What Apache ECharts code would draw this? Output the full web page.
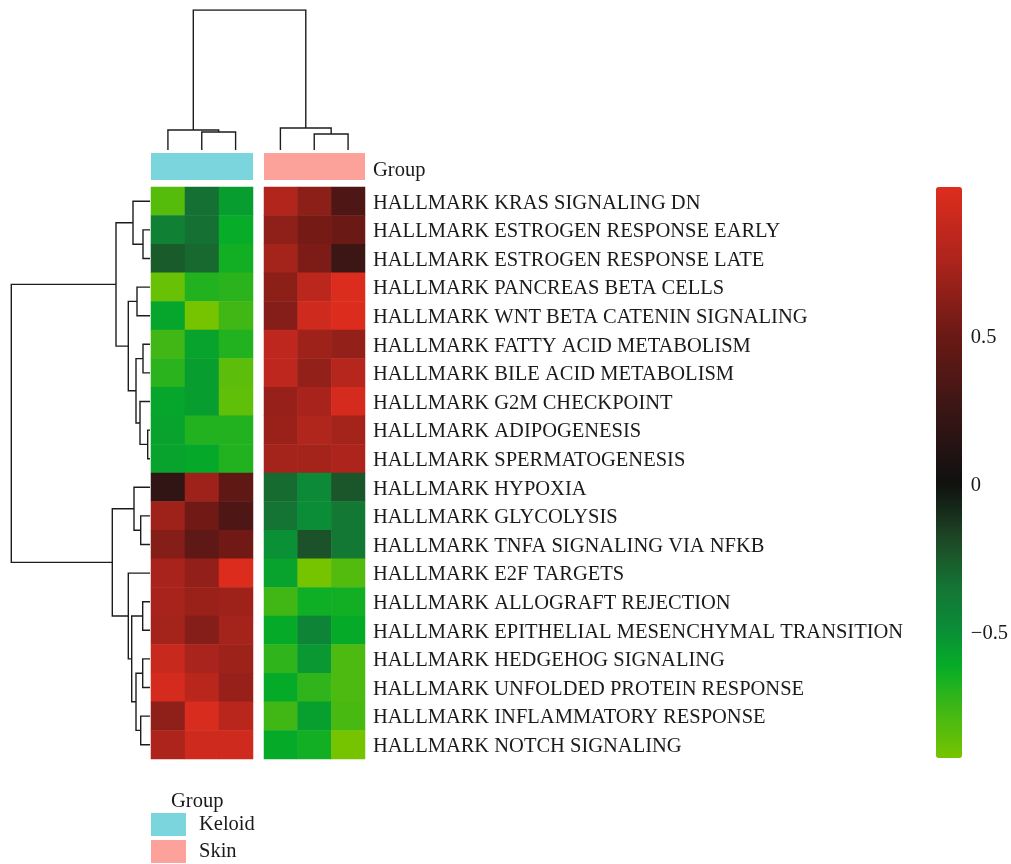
<!DOCTYPE html>
<html>
<head>
<meta charset="utf-8">
<script src="https://cdn.jsdelivr.net/npm/echarts@6/dist/echarts.min.js"></script>
<style>
  html, body { margin: 0; padding: 0; background: #ffffff; }
  #chart { width: 1011px; height: 864px; }
</style>
</head>
<body>
<div id="chart"></div>
<script>
// ---- data ----
const keloidSamples = ['Keloid 1', 'Keloid 2', 'Keloid 3'];
const skinSamples = ['Skin 1', 'Skin 2', 'Skin 3'];
const groupNames = ['Keloid', 'Skin'];

const pathways = [
  'HALLMARK KRAS SIGNALING DN',
  'HALLMARK ESTROGEN RESPONSE EARLY',
  'HALLMARK ESTROGEN RESPONSE LATE',
  'HALLMARK PANCREAS BETA CELLS',
  'HALLMARK WNT BETA CATENIN SIGNALING',
  'HALLMARK FATTY ACID METABOLISM',
  'HALLMARK BILE ACID METABOLISM',
  'HALLMARK G2M CHECKPOINT',
  'HALLMARK ADIPOGENESIS',
  'HALLMARK SPERMATOGENESIS',
  'HALLMARK HYPOXIA',
  'HALLMARK GLYCOLYSIS',
  'HALLMARK TNFA SIGNALING VIA NFKB',
  'HALLMARK E2F TARGETS',
  'HALLMARK ALLOGRAFT REJECTION',
  'HALLMARK EPITHELIAL MESENCHYMAL TRANSITION',
  'HALLMARK HEDGEHOG SIGNALING',
  'HALLMARK UNFOLDED PROTEIN RESPONSE',
  'HALLMARK INFLAMMATORY RESPONSE',
  'HALLMARK NOTCH SIGNALING'
];

// GSVA enrichment scores, one row per pathway (3 samples each)
const keloidScores = [
  [-0.83, -0.34, -0.56],
  [-0.42, -0.34, -0.62],
  [-0.26, -0.31, -0.65],
  [-0.89, -0.69, -0.71],
  [-0.59, -0.93, -0.77],
  [-0.77, -0.58, -0.69],
  [-0.71, -0.56, -0.85],
  [-0.59, -0.56, -0.86],
  [-0.58, -0.69, -0.69],
  [-0.58, -0.60, -0.69],
  [ 0.19,  0.70,  0.44],
  [ 0.70,  0.52,  0.35],
  [ 0.60,  0.43,  0.52],
  [ 0.73,  0.65,  0.99],
  [ 0.73,  0.68,  0.70],
  [ 0.72,  0.60,  0.72],
  [ 0.89,  0.74,  0.69],
  [ 0.95,  0.81,  0.67],
  [ 0.64,  0.97,  0.81],
  [ 0.75,  0.92,  0.92]
];
const skinScores = [
  [ 0.78,  0.63,  0.35],
  [ 0.64,  0.54,  0.50],
  [ 0.72,  0.57,  0.26],
  [ 0.63,  0.83,  0.99],
  [ 0.60,  0.92,  0.99],
  [ 0.84,  0.70,  0.66],
  [ 0.84,  0.66,  0.80],
  [ 0.67,  0.73,  0.95],
  [ 0.68,  0.77,  0.72],
  [ 0.72,  0.72,  0.75],
  [-0.32, -0.48, -0.24],
  [-0.35, -0.49, -0.37],
  [-0.51, -0.23, -0.37],
  [-0.58, -0.93, -0.82],
  [-0.77, -0.64, -0.65],
  [-0.61, -0.44, -0.61],
  [-0.72, -0.54, -0.80],
  [-0.61, -0.72, -0.80],
  [-0.77, -0.57, -0.79],
  [-0.61, -0.65, -0.93]
];

// hierarchical clustering merges (hclust style: negative = leaf, positive = earlier merge)
const rowMerges = [
  [-2, -3, 0.70],
  [-1, 1, 1.70],
  [-4, -5, 1.30],
  [-6, -7, 0.70],
  [-9, -10, 0.23],
  [-8, 5, 1.00],
  [4, 6, 1.40],
  [3, 7, 2.17],
  [2, 8, 3.40],
  [-12, -13, 0.93],
  [-11, 10, 1.60],
  [-15, -16, 0.73],
  [-17, -18, 0.73],
  [-19, -20, 0.93],
  [13, 14, 1.40],
  [12, 15, 1.83],
  [-14, 16, 2.17],
  [11, 17, 3.77],
  [9, 18, 13.87]
];
const colMerges = [
  [-2, -3, 1.8],
  [-1, 1, 2.0],
  [-5, -6, 1.6],
  [-4, 3, 2.2],
  [2, 4, 14.0]
];

const scoreMin = -0.93;
const scoreMax = 1.0;
const legendTicks = [-0.5, 0, 0.5];

// ---- styling ----
const FONT = '"Liberation Serif", "DejaVu Serif", serif';
const TEXT = '#1a1a1a';
const LABEL_SIZE = 20.5;
const groupColors = { Keloid: '#7AD5DD', Skin: '#FDA29B' };
const colorStops = [
  [-0.93, '#76C400'], [-0.75, '#3BB617'], [-0.62, '#05AD28'], [-0.5, '#0B8E37'],
  [-0.35, '#147434'], [-0.2, '#1E4A26'], [0, '#101010'], [0.25, '#3A1615'],
  [0.5, '#6B1915'], [0.75, '#AC241C'], [1.0, '#DE2D1E']
];

// layout (pixels)
const L = {
  kLeft: 151, kWidth: 102,
  sLeft: 264, sWidth: 101,
  heatTop: 187, heatHeight: 572,
  annTop: 153, annHeight: 27,
  rowDendroLeft: 11,
  colDendroTop: 10,
  barLeft: 936, barWidth: 26
};

function hexToRgb(h) {
  return [1, 3, 5].map(i => parseInt(h.slice(i, i + 2), 16));
}
function paletteAt(v) {
  for (let i = 0; i < colorStops.length - 1; i++) {
    const [v0, c0] = colorStops[i], [v1, c1] = colorStops[i + 1];
    if (v <= v1 || i === colorStops.length - 2) {
      const t = Math.max(0, Math.min(1, (v - v0) / (v1 - v0)));
      const a = hexToRgb(c0), b = hexToRgb(c1);
      return 'rgb(' + a.map((x, k) => Math.round(x + (b[k] - x) * t)).join(',') + ')';
    }
  }
}
const palette = [];
for (let i = 0; i <= 120; i++) palette.push(paletteAt(scoreMin + (scoreMax - scoreMin) * i / 120));

// elbow segments of a dendrogram in (position, height) units
function dendrogram(merges, leafPos) {
  const pos = [], hgt = [], segs = [];
  const node = r => (r < 0 ? [leafPos(-r - 1), 0] : [pos[r - 1], hgt[r - 1]]);
  merges.forEach(([a, b, h], k) => {
    const [pa, ha] = node(a), [pb, hb] = node(b);
    segs.push([[pa, ha], [pa, h], [pb, h], [pb, hb]]);
    pos[k] = (pa + pb) / 2;
    hgt[k] = h;
  });
  return segs;
}

const colWidth = L.kWidth / keloidSamples.length;
const groupGap = (L.sLeft - (L.kLeft + L.kWidth)) / colWidth;
const colLeafPos = i => (i < keloidSamples.length ? i : i + groupGap);
const rowSegs = dendrogram(rowMerges, i => i)
  .map(seg => ({ coords: seg.map(([p, h]) => [h, p]) }));
const colSegs = dendrogram(colMerges, colLeafPos)
  .map(seg => ({ coords: seg }));

const toCells = m => {
  const out = [];
  m.forEach((row, r) => row.forEach((v, c) => out.push([c, r, v])));
  return out;
};

// serif label style, nudged down a little so the glyphs sit centred on their row
const serifRich = dy => ({
  t: { fontFamily: FONT, fontSize: LABEL_SIZE, color: TEXT, padding: [dy, 0, 0, 0] }
});
const wrap = s => '{t|' + s + '}';

const hidden = { show: false };
const colMax = colMerges[colMerges.length - 1][2];

const option = {
  animation: false,
  backgroundColor: '#ffffff',
  textStyle: { fontFamily: FONT },
  title: {
    text: 'Group', left: 171, top: 791, padding: 0,
    textStyle: { fontFamily: FONT, fontSize: LABEL_SIZE, fontWeight: 'normal', color: TEXT }
  },
  legend: {
    data: groupNames, orient: 'vertical', left: 151, top: 813,
    icon: 'rect', itemWidth: 35, itemHeight: 23, itemGap: 4, padding: 0,
    selectedMode: false,
    textStyle: { fontFamily: FONT, fontSize: LABEL_SIZE, color: TEXT, padding: [0, 0, 0, 8] }
  },
  grid: [
    { left: L.kLeft, top: L.heatTop, width: L.kWidth, height: L.heatHeight },
    { left: L.sLeft, top: L.heatTop, width: L.sWidth, height: L.heatHeight },
    { left: L.kLeft, top: L.annTop, width: L.kWidth, height: L.annHeight },
    { left: L.sLeft, top: L.annTop, width: L.sWidth, height: L.annHeight },
    { left: L.rowDendroLeft, top: L.heatTop, width: L.kLeft - 1 - L.rowDendroLeft, height: L.heatHeight },
    { left: L.kLeft, top: L.colDendroTop, width: L.sLeft + L.sWidth - L.kLeft, height: L.annTop - 3 - L.colDendroTop },
    { left: L.barLeft, top: L.heatTop, width: L.barWidth, height: L.heatHeight - 1 }
  ],
  xAxis: [
    { gridIndex: 0, type: 'category', data: keloidSamples, show: false },
    { gridIndex: 1, type: 'category', data: skinSamples, show: false },
    { gridIndex: 2, type: 'value', min: 0, max: 1, show: false },
    { gridIndex: 3, type: 'value', min: 0, max: 1, show: false },
    { gridIndex: 4, type: 'value', min: 0, max: 13.9, inverse: true, show: false },
    { gridIndex: 5, type: 'value', min: -0.5, max: keloidSamples.length + skinSamples.length - 0.5 + groupGap, show: false },
    { gridIndex: 6, type: 'value', min: 0, max: 1, show: false }
  ],
  yAxis: [
    { gridIndex: 0, type: 'category', data: pathways, inverse: true, show: false },
    {
      gridIndex: 1, type: 'category', data: pathways, inverse: true, position: 'right',
      axisLine: hidden, axisTick: hidden, splitLine: hidden,
      axisLabel: { margin: 8, formatter: wrap, rich: serifRich(4) }
    },
    { gridIndex: 2, type: 'category', data: ['Group'], show: false },
    {
      gridIndex: 3, type: 'category', data: ['Group'], position: 'right',
      axisLine: hidden, axisTick: hidden, splitLine: hidden,
      axisLabel: { margin: 8, formatter: wrap, rich: serifRich(9) }
    },
    { gridIndex: 4, type: 'value', min: -0.5, max: pathways.length - 0.5, inverse: true, show: false },
    { gridIndex: 5, type: 'value', min: 0, max: colMax, show: false },
    {
      gridIndex: 6, type: 'value', min: scoreMin, max: scoreMax, position: 'right',
      axisLine: hidden, axisTick: hidden, splitLine: hidden,
      axisLabel: {
        customValues: legendTicks, margin: 10, rich: serifRich(6),
        formatter: v => wrap(v < 0 ? '\u2212' + Math.abs(v) : String(v))
      }
    }
  ],
  visualMap: {
    type: 'continuous', min: scoreMin, max: scoreMax, seriesIndex: [0, 1],
    calculable: false, hoverLink: false, orient: 'vertical',
    left: L.barLeft, top: L.heatTop, itemWidth: L.barWidth, itemHeight: L.heatHeight - 1,
    padding: 0, text: null, inRange: { color: palette }
  },
  series: [
    {
      type: 'heatmap', name: 'Keloid scores', xAxisIndex: 0, yAxisIndex: 0,
      data: toCells(keloidScores), silent: true, itemStyle: { borderWidth: 0 }
    },
    {
      type: 'heatmap', name: 'Skin scores', xAxisIndex: 1, yAxisIndex: 1,
      data: toCells(skinScores), silent: true, itemStyle: { borderWidth: 0 }
    },
    {
      type: 'bar', name: groupNames[0], xAxisIndex: 2, yAxisIndex: 2, data: [1],
      barWidth: '100%', silent: true, itemStyle: { color: groupColors.Keloid }
    },
    {
      type: 'bar', name: groupNames[1], xAxisIndex: 3, yAxisIndex: 3, data: [1],
      barWidth: '100%', silent: true, itemStyle: { color: groupColors.Skin }
    },
    {
      type: 'lines', coordinateSystem: 'cartesian2d', xAxisIndex: 4, yAxisIndex: 4,
      polyline: true, silent: true, data: rowSegs,
      lineStyle: { color: '#1c1c1c', width: 1.4, opacity: 1 }
    },
    {
      type: 'lines', coordinateSystem: 'cartesian2d', xAxisIndex: 5, yAxisIndex: 5,
      polyline: true, silent: true, data: colSegs,
      lineStyle: { color: '#1c1c1c', width: 1.4, opacity: 1 }
    }
  ]
};

const chart = echarts.init(document.getElementById('chart'), null, { renderer: 'canvas' });
chart.setOption(option);
</script>
</body>
</html>
